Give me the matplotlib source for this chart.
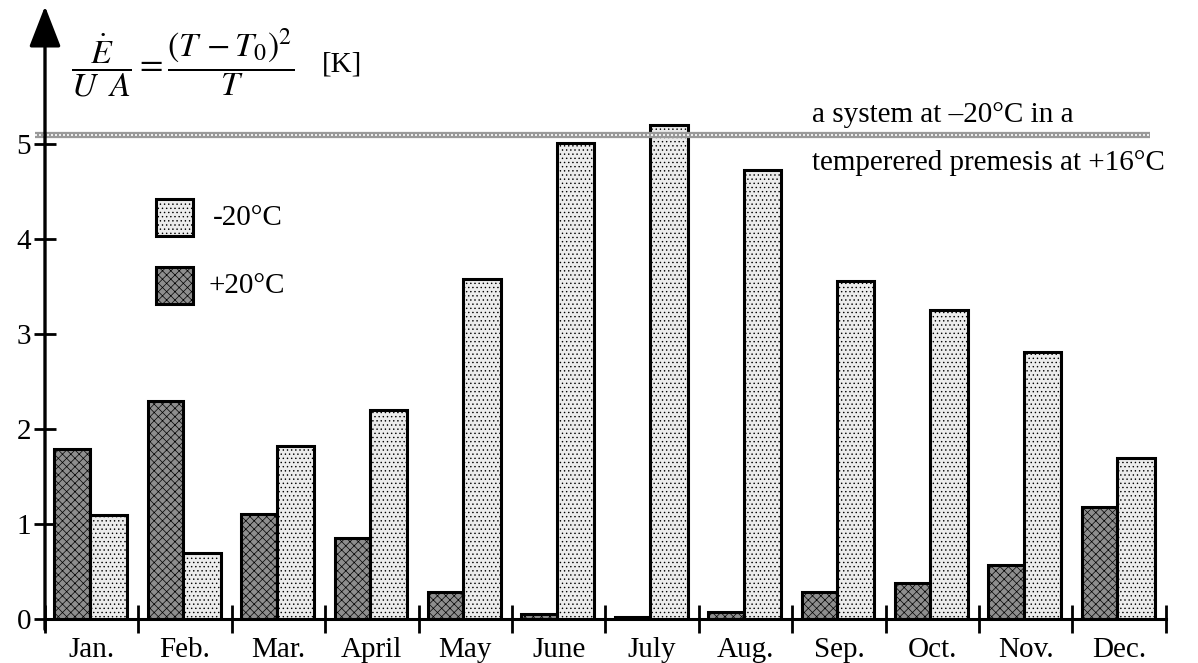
import numpy as np
import matplotlib
matplotlib.use('Agg')
import matplotlib.pyplot as plt
from matplotlib.patches import Rectangle

plt.rcParams['font.family'] = ['Liberation Serif', 'DejaVu Serif']
plt.rcParams['mathtext.fontset'] = 'stix'
plt.rcParams['hatch.linewidth'] = 0.5

months = ['Jan.', 'Feb.', 'Mar.', 'April', 'May', 'June', 'July', 'Aug.',
          'Sep.', 'Oct.', 'Nov.', 'Dec.']
minus20 = [1.10, 0.70, 1.82, 2.20, 3.58, 5.01, 5.20, 4.73, 3.56, 3.25, 2.81, 1.69]
plus20 = [1.79, 2.29, 1.11, 0.85, 0.28, 0.05, 0.02, 0.07, 0.28, 0.38, 0.57, 1.18]
limit = 5.09  # -20C system in +16C premises

W, H = 1198, 663
fig = plt.figure(figsize=(W / 100, H / 100), dpi=100)
# pixel layout: x=0 at 45px, 93.4 px per month; y=0 at 619px, 95 px per unit
ax = fig.add_axes([45 / W, 44 / H, 12 * 93.4 / W, 6.45 * 95 / H])
ax.set_xlim(0, 12)
ax.set_ylim(0, 6.45)

x = np.arange(len(months))
ax.bar(x + 0.1, plus20, width=0.38, align='edge', facecolor='#8e8e8e',
       edgecolor='black', linewidth=2.2, hatch='xxxx', zorder=3)
ax.bar(x + 0.48, minus20, width=0.4, align='edge', facecolor='#ececec',
       edgecolor='black', linewidth=2.2, hatch='....', zorder=3)

# the "limit" line
ax.plot([-0.11, 11.83], [limit, limit], color='#999999', lw=4.5, zorder=4,
        clip_on=False, solid_capstyle='butt')
ax.plot([-0.11, 11.83], [limit, limit], color='white', lw=1.2, zorder=5,
        clip_on=False, dashes=(1.2, 1.2))

for s in ['top', 'right', 'left']:
    ax.spines[s].set_visible(False)
ax.spines['bottom'].set_linewidth(2.2)
ax.annotate('', xy=(0, 6.45), xytext=(0, -0.11), xycoords='data',
            arrowprops=dict(arrowstyle='-|>,head_length=0.9,head_width=0.35',
                            lw=2.4, color='black', shrinkA=0, shrinkB=0,
                            mutation_scale=28),
            annotation_clip=False, zorder=6)

ax.set_yticks(range(6))
ax.tick_params(axis='y', direction='inout', length=16, width=2, labelsize=21, pad=2)
ax.set_xticks(range(13))
ax.set_xticklabels([])
ax.tick_params(axis='x', which='major', direction='inout', length=20, width=2)
ax.set_xticks(x + 0.5, minor=True)
ax.set_xticklabels(months, minor=True)
ax.tick_params(axis='x', which='minor', length=0, labelsize=21, pad=13)

# formula
fig.text(71 / W, 1 - 63 / H, r'$\dfrac{\dot{E}}{U\;\;A}=\dfrac{(T\,-T_0)^2}{T}$',
         fontsize=24.5, ha='left', va='center')
fig.text(322 / W, 1 - 65 / H, '[K]', fontsize=21, ha='left', va='center')

fig.text(812 / W, 1 - 115 / H, 'a system at \u201320\u00b0C in a', fontsize=21,
         ha='left', va='center')
fig.text(812 / W, 1 - 163 / H, 'temperered premesis at +16\u00b0C', fontsize=21,
         ha='left', va='center')

# legend boxes
for top, fc, hatch, label, tx in [(199, '#ececec', '....', '-20\u00b0C', 213),
                                  (267, '#8e8e8e', 'xxxx', '+20\u00b0C', 208)]:
    r = Rectangle((156 / W, 1 - (top + 37) / H), 37 / W, 37 / H,
                  transform=fig.transFigure, facecolor=fc, edgecolor='black',
                  linewidth=2.2, hatch=hatch)
    fig.patches.append(r)
    fig.text(tx / W, 1 - (top + 19) / H, label, fontsize=21, ha='left', va='center')

fig.savefig('out.png', dpi=100)
